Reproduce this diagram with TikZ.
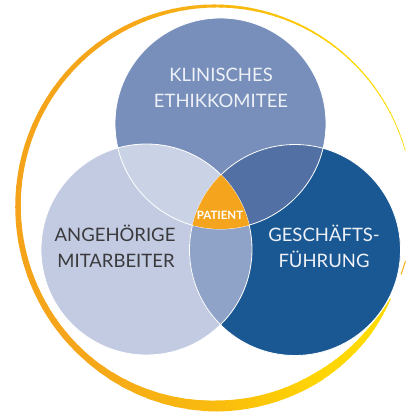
\documentclass[tikz,border=0pt]{standalone}
\usepackage{fontspec}
\setmainfont{Lato}
\definecolor{topC}{HTML}{778FBA}
\definecolor{leftC}{HTML}{C3CBE2}
\definecolor{rightC}{HTML}{1A5894}
\definecolor{tlC}{HTML}{CAD3E6}
\definecolor{trC}{HTML}{5270A3}
\definecolor{botC}{HTML}{8FA3C8}
\definecolor{patC}{HTML}{F5A41D}
\definecolor{brushO}{HTML}{F5A31A}
\definecolor{brushY}{HTML}{FFDA00}
\definecolor{darkTxt}{HTML}{3A3A3C}
\definecolor{lightTxt}{HTML}{EEF1F7}
\tikzset{
  bigtxt/.style={anchor=base, inner sep=0pt, font=\fontsize{18.5}{22}\selectfont},
  pattxt/.style={anchor=base, inner sep=0pt, text=white, font=\fontsize{11.5}{13}\selectfont\bfseries},
}
\begin{document}
\begin{tikzpicture}[x=1pt,y=1pt]
\useasboundingbox (0,0) rectangle (414,417);
\def\rr{105.5}
\coordinate (T) at (220.5,293.5);
\coordinate (L) at (146.5,167.5);
\coordinate (R) at (295,167);
% brush ring
\def\cx{215.5}\def\cy{211}\def\ea{197.5}\def\eb{200}
\foreach \ta/\tb/\wa/\wb/\pa/\pb in {
  16/45/0.6/1.2/0/5,
  45/70/1.2/2/5/40,
  70/90/2/3/40/70,
  90/120/3/4.5/70/95,
  120/180/4.5/5.5/95/100,
  180/230/5.5/6.5/100/95,
  230/270/6.5/11/95/55,
  270/300/11/10/55/10,
  300/320/10/6/10/0,
  320/332/6/0.8/0/0}{
  \foreach \k in {0,...,9}{
    \pgfmathsetmacro\s{\ta+(\tb-\ta)*\k/10}
    \pgfmathsetmacro\e{\ta+(\tb-\ta)*(\k+1)/10+0.4}
    \pgfmathsetmacro\w{\wa+(\wb-\wa)*(\k+0.5)/10}
    \pgfmathsetmacro\p{\pa+(\pb-\pa)*(\k+0.5)/10}
    \draw[line width=\w pt, color=brushO!\p!brushY]
      ({\cx+\ea*cos(\s)},{\cy+\eb*sin(\s)})
      arc[start angle=\s, end angle=\e, x radius=\ea, y radius=\eb];
  }
}
\draw[line width=1pt, brushO!80!brushY] ({\cx+\ea*cos(-16)},{\cy+\eb*sin(-16)})
  arc[start angle=-16, end angle=-20, x radius=\ea, y radius=\eb];
% circles
\fill[topC] (T) circle (\rr);
\fill[leftC] (L) circle (\rr);
\fill[rightC] (R) circle (\rr);
\begin{scope}\clip (T) circle (\rr); \fill[tlC] (L) circle (\rr);\end{scope}
\begin{scope}\clip (T) circle (\rr); \fill[trC] (R) circle (\rr);\end{scope}
\begin{scope}\clip (L) circle (\rr); \fill[botC] (R) circle (\rr);\end{scope}
\draw[white, line width=0.8pt] (T) circle (\rr) (L) circle (\rr) (R) circle (\rr);
\begin{scope}\clip (T) circle (\rr); \clip (L) circle (\rr); \fill[patC] (R) circle (\rr);\end{scope}
% texts
\node[bigtxt, text=lightTxt] (k1) at (221,335) {KLINISCHES};
\node[bigtxt, text=lightTxt] (k2) at (221,309) {ETHIKKOMITEE};
\node[bigtxt, text=darkTxt] (a1) at (115,175) {ANGEHÖRIGE};
\node[bigtxt, text=darkTxt] (a2) at (116,149) {MITARBEITER};
\node[bigtxt, text=lightTxt] (g1) at (324,175) {GESCHÄFTS-};
\node[bigtxt, text=lightTxt] (g2) at (324,149) {FÜHRUNG};
\node[pattxt] (p) at (220,197) {PATIENT};
\end{tikzpicture}
\end{document}
